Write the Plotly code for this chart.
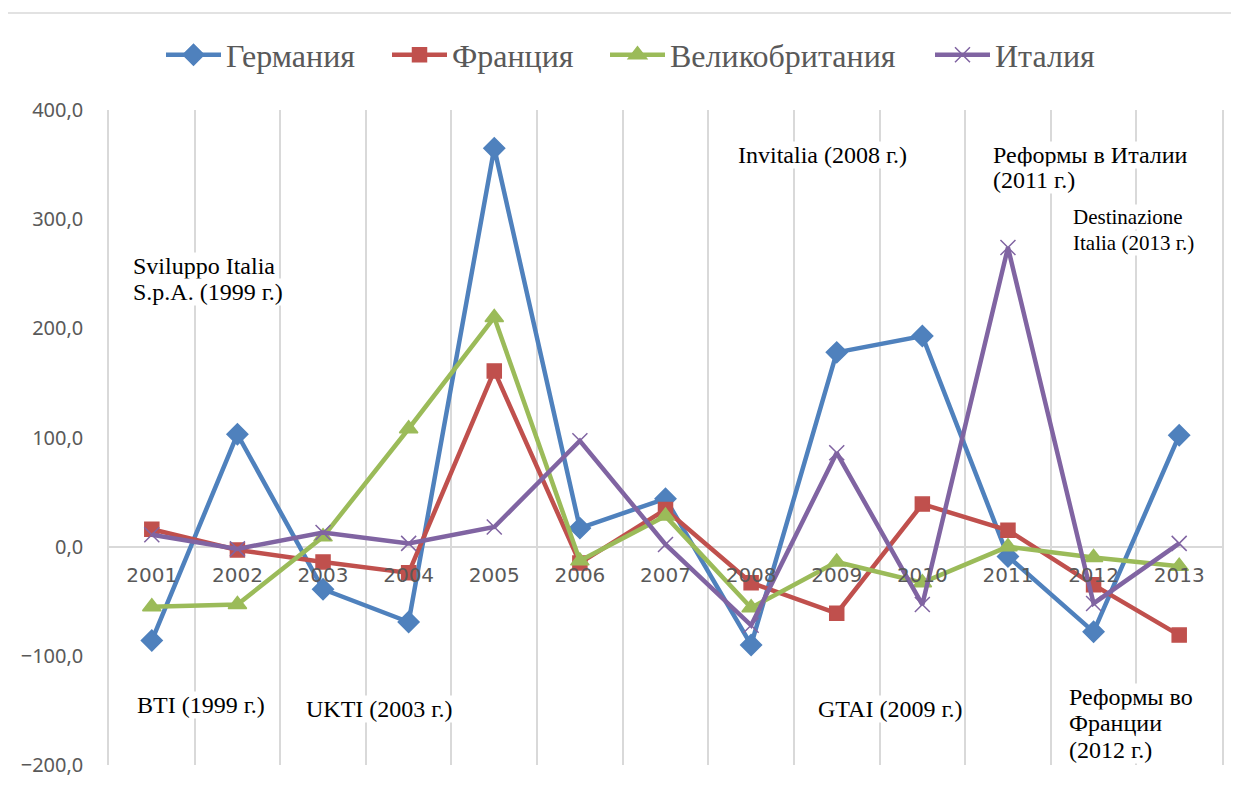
import plotly.graph_objects as go

years = ["2001", "2002", "2003", "2004", "2005", "2006", "2007",
         "2008", "2009", "2010", "2011", "2012", "2013"]
germany = [-86, 103, -39, -69, 365, 17, 44, -90, 178, 193, -9, -78, 102]
france = [16, -3, -14, -24, 161, -15, 34, -33, -61, 39, 15, -35, -81]
uk = [-55, -53, 9, 108, 210, -13, 28, -56, -14, -33, 0, -10, -18]
italy = [11, -2, 13, 3, 18, 97, 2, -72, 86, -53, 274, -52, 3]

series = [
    ("Германия", germany, "#4F81BD", "diamond", 16),
    ("Франция", france, "#C0504D", "square", 14),
    ("Великобритания", uk, "#9BBB59", "triangle-up", 16),
    ("Италия", italy, "#8064A2", "x-thin-open", 15),
]

# page body adds an 8px offset; work in window pixels and convert
OFF = 8
W, H = 1239 - OFF, 787 - OFF
PL, PR, PT, PB = 109, 1222, 110, 765   # plot area in window pixels
L, R, T, B = PL - OFF, (W + OFF) - PR, PT - OFF, (H + OFF) - PB
pw = PR - PL
ph = PB - PT


def px_x(px):
    return (px - PL) / pw


def px_y(py):
    return 1 - (py - PT) / ph


legend_ids = ["legend", "legend2", "legend3", "legend4"]
legend_left = [169, 395, 613, 938]

fig = go.Figure()
for (name, vals, color, sym, size), lid in zip(series, legend_ids):
    fig.add_trace(go.Scatter(
        x=years, y=vals, name=name, mode="lines+markers",
        line=dict(color=color, width=4.5),
        marker=dict(symbol=sym, size=size, color=color,
                    line=dict(color=color, width=1.5)),
        legend=lid,
    ))

notes = [
    ("Sviluppo Italia", 132, 266, 24),
    ("S.p.A. (1999 г.)", 132, 292, 24),
    ("BTI (1999 г.)", 136, 705, 24),
    ("UKTI (2003 г.)", 305, 709, 24),
    ("GTAI (2009 г.)", 817, 709, 24),
    ("Invitalia (2008 г.)", 737, 155, 24),
    ("Реформы в Италии", 992, 155, 24),
    ("(2011 г.)", 992, 180, 24),
    ("Destinazione", 1072, 217, 21),
    ("Italia (2013 г.)", 1072, 243, 21),
    ("Реформы во", 1068, 697, 24),
    ("Франции", 1068, 723, 24),
    ("(2012 г.)", 1068, 750, 24),
]
annotations = []
for text, ax, ay, fs in notes:
    annotations.append(dict(
        text=text, xref="paper", yref="paper",
        x=px_x(ax), y=px_y(ay), xanchor="left", yanchor="middle",
        align="left", showarrow=False, bgcolor="white", borderpad=0,
        font=dict(family="Liberation Serif", size=fs, color="black"),
    ))

legend_style = dict(orientation="h", yanchor="middle", xanchor="left",
                    font=dict(family="Liberation Serif", size=32, color="#595959"),
                    itemwidth=55, bgcolor="rgba(0,0,0,0)", borderwidth=0)
legends = {}
for lid, lx in zip(legend_ids, legend_left):
    legends[lid] = dict(legend_style, x=px_x(lx - 8), y=px_y(55))

fig.update_layout(
    width=W, height=H,
    margin=dict(l=L, r=R, t=T, b=B, autoexpand=False),
    plot_bgcolor="white", paper_bgcolor="white",
    separators=", ",
    showlegend=True,
    annotations=annotations,
    shapes=[dict(type="rect", xref="paper", yref="paper",
                 x0=px_x(7), x1=px_x(1300), y0=px_y(820), y1=px_y(13),
                 line=dict(color="#d9d9d9", width=1.5), layer="below")],
    xaxis=dict(type="category", tickson="boundaries", showgrid=True,
               gridcolor="#d9d9d9", gridwidth=1.5, showline=False,
               zeroline=False, anchor="free", position=px_y(547),
               ticks="", ticklabelstandoff=14,
               tickfont=dict(family="DejaVu Sans", size=20, color="#595959"),
               range=[-0.5, 12.5], automargin=False),
    yaxis=dict(range=[-200, 400], tickvals=[-200, -100, 0, 100, 200, 300, 400],
               tickformat=".1f", showgrid=False, zeroline=True,
               zerolinecolor="#d9d9d9", zerolinewidth=1.5,
               showline=True, mirror=True, linecolor="#d9d9d9", linewidth=1.5,
               ticks="outside", ticklen=20, tickcolor="rgba(0,0,0,0)",
               tickfont=dict(family="Noto Sans", size=20, color="#595959"),
               automargin=False),
    **legends,
)

fig.write_html("out.html")
